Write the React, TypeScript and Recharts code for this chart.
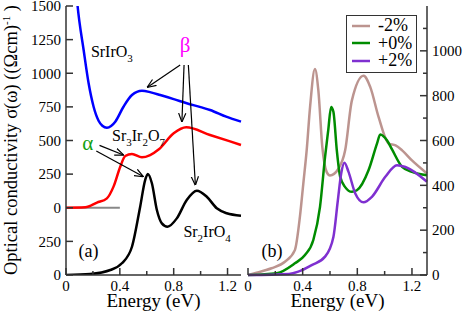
import {
  LineChart,
  Line,
  XAxis,
  YAxis,
  ReferenceLine,
  ReferenceDot,
  Legend,
} from "recharts"

const FONT = "'Liberation Serif', 'Times New Roman', serif"

// ---------- panel (a) ----------
// SrIrO3 and Sr3Ir2O7 are shifted up by OFFSET on the axis
const OFFSET = 500

const energySrIrO3 = [0.04, 0.086, 0.131, 0.168, 0.205, 0.242, 0.27, 0.304, 0.335, 0.366, 0.427, 0.49, 0.564, 0.63, 0.7, 0.8, 0.897, 1.0, 1.07, 1.19, 1.3]
const sigmaSrIrO3 = [2100, 1500, 1173, 925, 751, 647, 610, 595, 608, 640, 751, 838, 870, 858, 838, 808, 777, 748, 727, 677, 640]

const energySr327 = [0, 0.143, 0.23, 0.304, 0.353, 0.403, 0.44, 0.49, 0.564, 0.625, 0.69, 0.8, 0.893, 1.07, 1.3]
const sigmaSr327 = [0, 3, 38, 70, 157, 305, 385, 400, 375, 392, 435, 553, 598, 541, 467]

const energySr214 = [0, 0.18, 0.329, 0.415, 0.49, 0.551, 0.588, 0.608, 0.638, 0.675, 0.712, 0.754, 0.823, 0.897, 0.972, 1.046, 1.12, 1.194, 1.3]
const sigmaSr214 = [0, 7, 37, 87, 210, 508, 706, 751, 682, 483, 384, 359, 421, 558, 627, 582, 496, 459, 441]

const baselineEnergy = [0, 0.4]

const ticksYa = [0, 250, 500, 750, 1000, 1250, 1500, 1750, 2000]
const ticksX = [0, 0.2, 0.4, 0.6, 0.8, 1.0, 1.2]

// ---------- panel (b) ----------
const strainNames = ["-2%", "+0%", "+2%"]
const strainColors = ["#bc948f", "#008c00", "#7f30d0"]

const energyM2 = [0, 0.05, 0.172, 0.27, 0.343, 0.38, 0.405, 0.43, 0.454, 0.49, 0.515, 0.544, 0.576, 0.6, 0.662, 0.711, 0.76, 0.846, 0.895, 0.956, 1.03, 1.08, 1.128, 1.2, 1.31]
const sigmaM2 = [0, 8, 30, 59, 111, 260, 409, 560, 748, 919, 822, 570, 459, 444, 474, 556, 778, 889, 838, 704, 586, 578, 556, 511, 453]

const energyP0 = [0, 0.21, 0.343, 0.417, 0.478, 0.527, 0.564, 0.588, 0.608, 0.625, 0.65, 0.674, 0.711, 0.76, 0.797, 0.882, 0.944, 0.968, 1.018, 1.054, 1.128, 1.2, 1.31]
const sigmaP0 = [0, 8, 52, 89, 156, 304, 527, 650, 750, 728, 556, 440, 392, 371, 378, 467, 586, 627, 600, 560, 482, 460, 445]

const energyP2 = [0, 0.3, 0.368, 0.466, 0.564, 0.625, 0.657, 0.682, 0.706, 0.735, 0.785, 0.846, 0.907, 1.005, 1.09, 1.152, 1.31]
const sigmaP2 = [0, 5, 15, 44, 82, 170, 330, 453, 501, 461, 364, 324, 349, 438, 490, 482, 416]

const ticksYb = [0, 100, 200, 300, 400, 500, 600, 700, 800, 900, 1000, 1100]

const toPoints = (xs: number[], ys: number[], shift = 0) =>
  xs.map((x, i) => ({ x, y: ys[i] + shift }))

// ---------- axis ticks (drawn inward) ----------
const GAP = 5
const FRAME = "#333"

type Side = "left" | "right" | "top" | "bottom"

const makeTick =
  (side: Side, isMajor: (v: number) => boolean, label: (v: number) => string | null) =>
  (p: any) => {
    const { x, y, payload } = p
    const v = payload.value
    const len = isMajor(v) ? 7 : 4
    const txt = label(v)
    let l = [0, 0, 0, 0]
    let t: any = null
    if (side === "left") {
      l = [x + GAP, y, x + GAP + len, y]
      if (txt !== null) t = <text x={x} y={y} dy="0.35em" textAnchor="end">{txt}</text>
    } else if (side === "right") {
      l = [x - GAP, y, x - GAP - len, y]
      if (txt !== null) t = <text x={x} y={y} dy="0.35em" textAnchor="start">{txt}</text>
    } else if (side === "bottom") {
      l = [x, y - GAP, x, y - GAP - len]
      if (txt !== null) t = <text x={x} y={y} dy="0.72em" textAnchor="middle">{txt}</text>
    } else {
      l = [x, y + GAP, x, y + GAP + len]
    }
    return (
      <g>
        <line x1={l[0]} y1={l[1]} x2={l[2]} y2={l[3]} stroke={FRAME} strokeWidth={1.5} />
        {t && <g fill="#000" fontSize={15} fontFamily={FONT}>{t}</g>}
      </g>
    )
  }

const majorX = (v: number) => Math.abs(v * 2.5 - Math.round(v * 2.5)) < 1e-6
const labelX = (v: number) => (majorX(v) ? String(v) : null)
const none = () => null
const always = () => true

const axisLine = { stroke: FRAME, strokeWidth: 1.5 }

// ---------- annotations ----------
const Formula = ({ x, y, text, size = 16, color = "#000" }: any) => {
  const parts = text.split(/(\d+)/).filter((s: string) => s !== "")
  let prevSub = false
  return (
    <text x={x} y={y} fontSize={size} fill={color} fontFamily={FONT}>
      {parts.map((s: string, i: number) => {
        const sub = /^\d+$/.test(s)
        const dy = sub ? 5 : prevSub ? -5 : 0
        prevSub = sub
        return (
          <tspan key={i} dy={dy} fontSize={sub ? 11 : size}>
            {s}
          </tspan>
        )
      })}
    </text>
  )
}

const Arrow = (p: any) => (
  <line x1={p.x1} y1={p.y1} x2={p.x2} y2={p.y2} stroke="#000" strokeWidth={1.2} markerEnd="url(#arrowHead)" />
)

const YTitle = () => (
  <text transform="translate(17,140) rotate(-90)" textAnchor="middle" fontSize={18.5} fontFamily={FONT} fill="#000">
    Optical conductivity σ(ω) ((Ωcm)
    <tspan dy={-7} fontSize={11}>-1</tspan>
    <tspan dy={7}> )</tspan>
  </text>
)

const xTitle = {
  value: "Energy (eV)",
  position: "insideBottom" as const,
  offset: 0,
  style: { fontSize: 19, fontFamily: FONT, fill: "#000" },
}

const LegendBox = () => (
  <div
    style={{
      border: `1.5px solid ${FRAME}`,
      background: "#fff",
      padding: "1px 4px 2px 5px",
      fontFamily: FONT,
      fontSize: 18,
      color: "#000",
    }}
  >
    {strainNames.map((n, i) => (
      <div key={n} style={{ display: "flex", alignItems: "center", height: 17.5 }}>
        <svg width={18} height={4}>
          <line x1={0} y1={2} x2={18} y2={2} stroke={strainColors[i]} strokeWidth={2.5} />
        </svg>
        <span style={{ marginLeft: 8, lineHeight: "17.5px" }}>{n}</span>
      </div>
    ))}
  </div>
)

const W = 463
const H = 313

const PanelA = () => (
  <LineChart width={W} height={H} margin={{ top: 6, right: 222, bottom: 6, left: 6 }}>
    <defs>
      <marker id="arrowHead" viewBox="0 0 10 10" refX="9.5" refY="5" markerWidth="9" markerHeight="9" markerUnits="userSpaceOnUse" orient="auto">
        <path d="M0,1 L10,5 L0,9" fill="none" stroke="#000" strokeWidth={1.3} />
      </marker>
    </defs>
    <XAxis xAxisId="b" dataKey="x" type="number" domain={[0, 1.3]} ticks={ticksX} interval={0}
      height={32} tickSize={0} tickMargin={GAP} tickLine={false} axisLine={axisLine}
      tick={makeTick("bottom", majorX, labelX)} label={xTitle} />
    <XAxis xAxisId="t" orientation="top" dataKey="x" type="number" domain={[0, 1.3]} ticks={ticksX}
      interval={0} height={0} tickSize={0} tickMargin={GAP} tickLine={false} axisLine={axisLine}
      tick={makeTick("top", majorX, none)} />
    <YAxis yAxisId="l" type="number" domain={[0, 2000]} ticks={ticksYa} interval={0} allowDataOverflow
      width={60} tickSize={0} tickMargin={GAP} tickLine={false} axisLine={axisLine}
      tick={makeTick("left", always, (v) => String(v >= OFFSET ? v - OFFSET : v))} label={YTitle} />
    <YAxis yAxisId="r" orientation="right" type="number" domain={[0, 2000]} ticks={ticksYa} interval={0}
      width={0} tickSize={0} tickMargin={GAP} tickLine={false} axisLine={axisLine}
      tick={makeTick("right", always, none)} />

    <ReferenceLine xAxisId="b" yAxisId="l" stroke="#888" strokeWidth={2}
      segment={baselineEnergy.map((x) => ({ x, y: OFFSET }))} />

    <Line xAxisId="b" yAxisId="l" data={toPoints(energySr214, sigmaSr214)} dataKey="y" type="monotone"
      stroke="#000" strokeWidth={2.5} dot={false} isAnimationActive={false} />
    <Line xAxisId="b" yAxisId="l" data={toPoints(energySr327, sigmaSr327, OFFSET)} dataKey="y" type="monotone"
      stroke="#ff0000" strokeWidth={2.5} dot={false} isAnimationActive={false} />
    <Line xAxisId="b" yAxisId="l" data={toPoints(energySrIrO3, sigmaSrIrO3, OFFSET)} dataKey="y" type="monotone"
      stroke="#0000ff" strokeWidth={2.5} dot={false} isAnimationActive={false} />

    {/* beta arrows */}
    <ReferenceLine xAxisId="b" yAxisId="l" segment={[{ x: 0.848, y: 1561 }, { x: 0.605, y: 1396 }]} shape={Arrow} />
    <ReferenceLine xAxisId="b" yAxisId="l" segment={[{ x: 0.877, y: 1561 }, { x: 0.861, y: 1140 }]} shape={Arrow} />
    <ReferenceLine xAxisId="b" yAxisId="l" segment={[{ x: 0.909, y: 1561 }, { x: 0.961, y: 669 }]} shape={Arrow} />
    {/* alpha arrows */}
    <ReferenceLine xAxisId="b" yAxisId="l" segment={[{ x: 0.249, y: 964 }, { x: 0.427, y: 892 }]} shape={Arrow} />
    <ReferenceLine xAxisId="b" yAxisId="l" segment={[{ x: 0.225, y: 922 }, { x: 0.573, y: 732 }]} shape={Arrow} />

    <ReferenceDot xAxisId="b" yAxisId="l" x={0.885} y={1658} r={0}
      shape={(p: any) => <text x={p.cx} y={p.cy} textAnchor="middle" fontSize={21} fill="#ff00ff" fontFamily={FONT}>β</text>} />
    <ReferenceDot xAxisId="b" yAxisId="l" x={0.162} y={929} r={0}
      shape={(p: any) => <text x={p.cx} y={p.cy} textAnchor="middle" fontSize={21} fill="#11a011" fontFamily={FONT}>α</text>} />
    <ReferenceDot xAxisId="b" yAxisId="l" x={0.185} y={1619} r={0}
      shape={(p: any) => <Formula x={p.cx} y={p.cy} text="SrIrO3" />} />
    <ReferenceDot xAxisId="b" yAxisId="l" x={0.342} y={996} r={0}
      shape={(p: any) => <Formula x={p.cx} y={p.cy} text="Sr3Ir2O7" />} />
    <ReferenceDot xAxisId="b" yAxisId="l" x={0.872} y={283} r={0}
      shape={(p: any) => <Formula x={p.cx} y={p.cy} text="Sr2IrO4" />} />
    <ReferenceDot xAxisId="b" yAxisId="l" x={0.093} y={136} r={0}
      shape={(p: any) => <Formula x={p.cx} y={p.cy} text="(a)" size={18} />} />
  </LineChart>
)

const seriesB = [
  toPoints(energyM2, sigmaM2),
  toPoints(energyP0, sigmaP0),
  toPoints(energyP2, sigmaP2),
]

const PanelB = () => (
  <LineChart width={W} height={H} margin={{ top: 6, right: 6, bottom: 6, left: 248 }}>
    <XAxis xAxisId="b" dataKey="x" type="number" domain={[0, 1.3]} ticks={ticksX} interval={0}
      height={32} tickSize={0} tickMargin={GAP} tickLine={false} axisLine={axisLine}
      tick={makeTick("bottom", majorX, labelX)} label={xTitle} />
    <XAxis xAxisId="t" orientation="top" dataKey="x" type="number" domain={[0, 1.3]} ticks={ticksX}
      interval={0} height={0} tickSize={0} tickMargin={GAP} tickLine={false} axisLine={axisLine}
      tick={makeTick("top", majorX, none)} />
    <YAxis yAxisId="l" type="number" domain={[0, 1200]} ticks={ticksYb} interval={0}
      width={0} tickSize={0} tickMargin={GAP} tickLine={false} axisLine={axisLine}
      tick={makeTick("left", (v) => v % 200 === 0, none)} />
    <YAxis yAxisId="r" orientation="right" type="number" domain={[0, 1200]} ticks={ticksYb} interval={0}
      width={30} tickSize={0} tickMargin={GAP} tickLine={false} axisLine={axisLine}
      tick={makeTick("right", (v) => v % 200 === 0, (v) => (v % 200 === 0 && v <= 1000 ? String(v) : null))} />

    {seriesB.map((d, i) => (
      <Line key={strainNames[i]} name={strainNames[i]} xAxisId="b" yAxisId="r" data={d} dataKey="y"
        type="monotone" stroke={strainColors[i]} strokeWidth={2.5} dot={false} isAnimationActive={false} />
    ))}

    <ReferenceDot xAxisId="b" yAxisId="r" x={0.099} y={81} r={0}
      shape={(p: any) => <Formula x={p.cx} y={p.cy} text="(b)" size={18} />} />

    <Legend layout="vertical" align="center" verticalAlign="middle" content={<LegendBox />}
      wrapperStyle={{ left: 346, top: 15, width: "auto", height: "auto" }} />
  </LineChart>
)

export default function App() {
  return (
    <div style={{ position: "absolute", left: 0, top: 0, width: W, height: H, background: "#fff", fontFamily: FONT }}>
      <div style={{ position: "absolute", left: 0, top: 0 }}>
        <PanelA />
      </div>
      <div style={{ position: "absolute", left: 0, top: 0 }}>
        <PanelB />
      </div>
    </div>
  )
}
